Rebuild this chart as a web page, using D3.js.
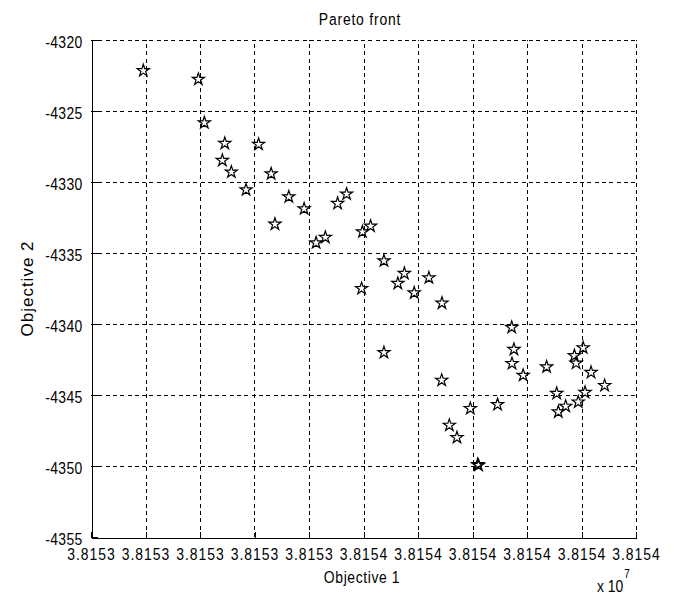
<!DOCTYPE html>
<html>
<head>
<meta charset="utf-8">
<script src="https://cdn.jsdelivr.net/npm/d3@7"></script>
<style>
    body { margin: 0; background: #fff; }
    text { fill: #000; }
</style>
</head>
<body>
<div id="chart"></div>
<script>
// objective values
var obj1 = [
    38153429.2, 38153449.4, 38153451.6, 38153459.1, 38153458.2, 38153461.5,
    38153471.5, 38153476.1, 38153466.9, 38153482.6, 38153488.2, 38153477.5,
    38153492.6, 38153496.0, 38153500.5, 38153503.8, 38153509.6, 38153512.6,
    38153517.5, 38153525.0, 38153522.6, 38153509.3, 38153528.6, 38153534.0,
    38153538.8, 38153564.4, 38153517.5, 38153565.2, 38153564.5, 38153568.6,
    38153577.2, 38153587.4, 38153590.6, 38153588.0, 38153593.5, 38153538.7,
    38153598.5, 38153580.9, 38153591.3, 38153588.8, 38153584.2, 38153581.5,
    38153559.2, 38153549.2, 38153541.5, 38153544.3, 38153551.9, 38153552.2
];
var obj2 = [
    -4322.16, -4322.77, -4325.83, -4327.28, -4328.48, -4329.30,
    -4327.35, -4329.42, -4330.55, -4331.04, -4331.89, -4332.97,
    -4334.28, -4333.90, -4331.51, -4330.85, -4333.51, -4333.11,
    -4335.55, -4336.44, -4337.14, -4337.50, -4337.81, -4336.75,
    -4338.53, -4340.24, -4342.01, -4341.79, -4342.78, -4343.61,
    -4343.02, -4342.23, -4341.67, -4342.76, -4343.41, -4343.96,
    -4344.33, -4344.89, -4344.82, -4345.49, -4345.79, -4346.19,
    -4345.67, -4345.95, -4347.13, -4348.00, -4349.90, -4349.95
];
var xTicks = [38153410, 38153430, 38153450, 38153470, 38153490, 38153510,
    38153530, 38153550, 38153570, 38153590, 38153610];
var xTickLabels = ["3.8153", "3.8153", "3.8153", "3.8153", "3.8153", "3.8154",
    "3.8154", "3.8154", "3.8154", "3.8154", "3.8154"];
var yTicks = [-4320, -4325, -4330, -4335, -4340, -4345, -4350, -4355];

var width = 674,
    height = 596,
    mLeft = 91, mRight = 636, mTop = 40, mBottom = 537;
var font = "'Liberation Sans', Arial, sans-serif";
var sx = 0.82; // squeeze to mimic the narrow matlab font

var x = d3.scaleLinear().domain([xTicks[0], xTicks[xTicks.length - 1]]).range([mLeft, mRight]);
var y = d3.scaleLinear().domain([-4355, -4320]).range([mBottom, mTop]);

var svg = d3.select("#chart").append("svg")
    .attr("width", width)
    .attr("height", height)
    .style("background", "#fff");

// dashed grid
var grid = svg.append("g")
    .attr("stroke", "#000")
    .attr("stroke-width", 1)
    .attr("stroke-dasharray", "4,3.3")
    .attr("shape-rendering", "crispEdges");
grid.selectAll(".gx")
    .data(xTicks.slice(1))
    .enter().append("line")
    .attr("x1", d => Math.round(x(d)) + 0.5)
    .attr("x2", d => Math.round(x(d)) + 0.5)
    .attr("y1", mBottom)
    .attr("y2", mTop);
grid.selectAll(".gy")
    .data(yTicks.slice(0, -1))
    .enter().append("line")
    .attr("x1", mLeft)
    .attr("x2", mRight + 1)
    .attr("y1", d => Math.round(y(d)) + 0.5)
    .attr("y2", d => Math.round(y(d)) + 0.5);

// axes
var xAxis = d3.axisBottom(x)
    .tickValues(xTicks)
    .tickSizeInner(-6)
    .tickSizeOuter(0)
    .tickPadding(10)
    .tickFormat((d, i) => xTickLabels[i]);
var yAxis = d3.axisLeft(y)
    .tickValues(yTicks)
    .tickSizeInner(-6)
    .tickSizeOuter(0)
    .tickPadding(9)
    .tickFormat(d => String(d));

var gx = svg.append("g")
    .attr("transform", "translate(0," + (Math.round(mBottom) + 0.5) + ")")
    .call(xAxis);
var gy = svg.append("g")
    .attr("transform", "translate(" + (mLeft + 0.5) + ",0)")
    .call(yAxis);

[gx, gy].forEach(function (g) {
    g.attr("font-family", null).attr("font-size", null);
    g.select(".domain").attr("stroke", "#000").attr("shape-rendering", "crispEdges");
    g.selectAll(".tick line").attr("stroke", "#000").attr("shape-rendering", "crispEdges");
    g.selectAll(".tick text")
        .style("font-family", font)
        .style("font-size", "17px")
        .attr("fill", "#000");
});
gx.selectAll(".tick text")
    .style("letter-spacing", (1 / sx) + "px")
    .attr("dy", "0.74em")
    .attr("transform", "scale(" + sx + ",1)");
gy.selectAll(".tick text")
    .style("letter-spacing", (0.3 / sx) + "px")
    .attr("x", -9 / sx)
    .attr("dy", "0.45em")
    .attr("transform", "scale(" + sx + ",1)");

// stars
svg.append("g")
    .selectAll("path")
    .data(obj1.map((d, i) => [d, obj2[i]]))
    .enter().append("path")
    .attr("d", d3.symbol().type(d3.symbolStar).size(46))
    .attr("transform", d => "translate(" + x(d[0]) + "," + y(d[1]) + ")")
    .attr("fill", "none")
    .attr("stroke", "#000")
    .attr("stroke-width", 1.2);

// labels
function squeezed(px, py, txt, spacing) {
    return svg.append("text")
        .attr("transform", "translate(" + px + "," + py + ") scale(" + sx + ",1)")
        .attr("text-anchor", "middle")
        .style("font-family", font)
        .style("font-size", "17px")
        .style("letter-spacing", (spacing / sx) + "px")
        .text(txt);
}
squeezed(360, 25, "Pareto front", 0.8);
squeezed(362, 583, "Objective 1", 0.6);

svg.append("text")
    .attr("transform", "translate(27," + (mTop + mBottom) / 2 + ") rotate(-90)")
    .attr("dy", "0.35em")
    .attr("text-anchor", "middle")
    .style("font-family", font)
    .style("font-size", "17px")
    .style("letter-spacing", "1px")
    .text("Objective 2");

var expo = svg.append("text")
    .attr("transform", "translate(597,592) scale(" + sx + ",1)")
    .style("font-family", font)
    .style("font-size", "17px");
expo.append("tspan").text("x 10");
expo.append("tspan")
    .attr("dx", 1)
    .attr("dy", -14)
    .style("font-size", "12px")
    .text("7");
</script>
</body>
</html>
